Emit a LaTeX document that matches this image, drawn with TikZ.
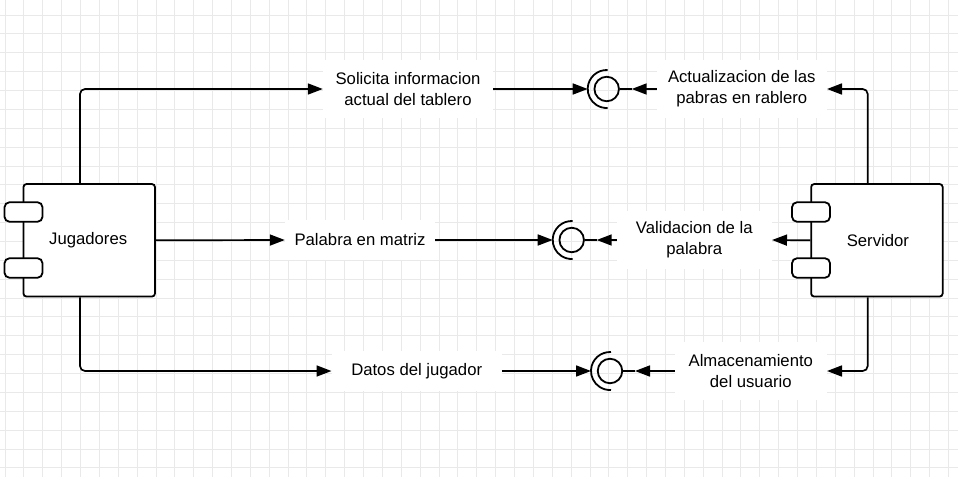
\documentclass[tikz,border=0pt]{standalone}
\usepackage{fontspec}
\setmainfont{Liberation Sans}
\usetikzlibrary{arrows.meta}
\begin{document}
\begin{tikzpicture}[x=1pt,y=-1pt,
  gridline/.style={draw=gray!17, line width=0.9pt},
  comp/.style={draw, line width=1.8pt, rounded corners=3pt, fill=white, minimum width=131.5pt, minimum height=112.5pt, font=\fontsize{16.7pt}{20.7pt}\selectfont},
  port/.style={draw, line width=1.8pt, rounded corners=5pt, fill=white, minimum width=38pt, minimum height=19.5pt, inner sep=0pt},
  lbl/.style={fill=white, align=center, inner sep=0pt, font=\fontsize{16.7pt}{20.7pt}\selectfont},
  conn/.style={line width=1.7pt, rounded corners=5pt, -{Triangle[length=15pt,width=11pt]}},
  plain/.style={line width=1.7pt},
  ball/.style={draw, circle, line width=1.8pt, minimum size=24.5pt, inner sep=0pt},
  sock/.style={line width=1.8pt}
]
\useasboundingbox (0,0) rectangle (958,477);
\fill[white] (0,0) rectangle (958,477);
\foreach \i in {0,...,50} \draw[gridline] ({5+18.87*\i},0) -- ({5+18.87*\i},477);
\foreach \j in {0,...,25} \draw[gridline] (0,{15+18.87*(\j-1)}) -- (958,{15+18.87*(\j-1)});

% components
\node[comp] (jug) at (89.2,240.3) {\hspace*{-2pt}Jugadores};
\node[port] (jp1) at (23.5,212) {};
\node[port] (jp2) at (23.5,268) {};
\node[comp] (srv) at (876.9,240.3) {\hspace*{2pt}Servidor};
\node[port] (sp1) at (811,212) {};
\node[port] (sp2) at (811,268) {};

\coordinate (jx) at (80,0);
\coordinate (sx) at (867.7,0);

% labels
\node[lbl, minimum width=170pt, minimum height=58pt] (l1) at (408,89) {Solicita informacion\\actual del tablero};
\node[lbl, minimum width=150pt, minimum height=40pt] (l2) at (360,240) {Palabra en matriz};
\node[lbl, minimum width=170pt, minimum height=40pt] (l3) at (416.7,371) {Datos del jugador};
\node[lbl, minimum width=170pt, minimum height=58pt] (r1) at (741.8,89) {Actualizacion de las\\pabras en rablero};
\node[lbl, minimum width=155pt, minimum height=58pt] (r2) at (694.3,240) {Validacion de la\\palabra};
\node[lbl, minimum width=152pt, minimum height=58pt] (r3) at (750.8,371) {Almacenamiento\\del usuario};

% lollipops
\node[ball] (bt) at (606.7,89) {};
\node[ball] (bm) at (571.7,240) {};
\node[ball] (bb) at (610,371) {};
\foreach \b in {bt,bm,bb}{
  \draw[sock] (\b.center) ++(87:19pt) arc[start angle=87,end angle=273,radius=19pt];
  \coordinate (\b a) at ([xshift=-19pt]\b.center);
  \coordinate (\b s) at ([xshift=25pt]\b.center);
  \draw[plain] (\b.east) -- (\b s);
}

% connectors
\draw[conn] (jug.north -| jx) |- (l1.west);
\draw[conn] (jug.east) -- (l2.west);
\draw[conn] (jug.south -| jx) |- (l3.west);
\draw[conn] (l1.east) -- (bta);
\draw[conn] (l2.east) -- (bma);
\draw[conn] (l3.east) -- (bba);

\draw[conn] (srv.north -| sx) |- (r1.east);
\draw[conn] (srv.west) -- (r2.east);
\draw[conn] (srv.south -| sx) |- (r3.east);
\draw[conn] (r1.west) -- (bts);
\draw[conn] (r2.west) -- (bms);
\draw[conn] (r3.west) -- (bbs);
\end{tikzpicture}
\end{document}
